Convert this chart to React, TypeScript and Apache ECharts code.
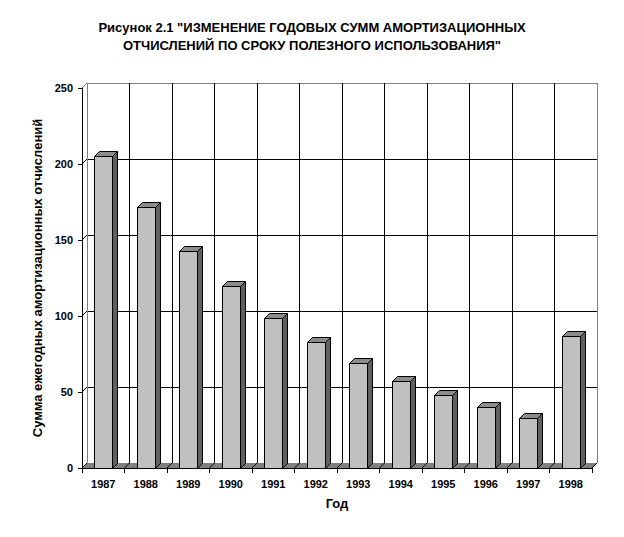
import React, { useEffect, useRef } from "react";
import * as echarts from "echarts";

const years = ["1987", "1988", "1989", "1990", "1991", "1992", "1993", "1994", "1995", "1996", "1997", "1998"];
const amounts = [205, 172, 143, 120, 99, 83, 69, 57, 48, 40, 33, 87];
const yTicks = [0, 50, 100, 150, 200, 250];
const titleText = 'Рисунок 2.1 "ИЗМЕНЕНИЕ ГОДОВЫХ СУММ АМОРТИЗАЦИОННЫХ\nОТЧИСЛЕНИЙ ПО СРОКУ ПОЛЕЗНОГО ИСПОЛЬЗОВАНИЯ"';
const yName = "Сумма ежегодных амортизационных отчислений";
const xName = "Год";

const FONT = 'Arial, "Liberation Sans", sans-serif';
const FL = 82, FT = 88, W = 510, H = 380, D = 5;

export default function App() {
  const ref = useRef<HTMLDivElement>(null);
  useEffect(() => {
    if (!ref.current) return;
    const chart = echarts.init(ref.current, null, { renderer: "svg" });
    const graphics: any[] = [];
    graphics.push({
      type: "text",
      z: 20,
      x: 312,
      y: 18,
      style: {
        text: titleText,
        align: "center",
        textAlign: "center",
        font: `bold 13px ${FONT}`,
        fill: "#000",
        lineHeight: 18,
      },
    });
    // floor
    graphics.push({
      type: "polygon",
      z: 1,
      shape: { points: [[FL, FT + H], [FL + W, FT + H], [FL + W + D, FT + H - D], [FL + D, FT + H - D]] },
      style: { fill: "#808080", stroke: "none" },
    });
    // floor diagonals at category boundaries
    for (let k = 0; k <= years.length; k++) {
      const x = FL + (W * k) / years.length;
      graphics.push({
        type: "line", z: 2,
        shape: { x1: x, y1: FT + H, x2: x + D, y2: FT + H - D },
        style: { stroke: "#000", lineWidth: 1 },
      });
    }
    // left wall diagonals
    yTicks.forEach((t, i) => {
      const y = FT + H - (H * t) / yTicks[yTicks.length - 1];
      graphics.push({
        type: "line", z: 2,
        shape: { x1: FL, y1: y, x2: FL + D, y2: y - D },
        style: { stroke: i === yTicks.length - 1 ? "#808080" : "#000", lineWidth: 1 },
      });
    });

    const splitColorsX = years.map((_, i) => (i === 0 ? "#808080" : "#000")).concat(["#808080"]);
    const splitColorsY = yTicks.map((_, i) => (i === yTicks.length - 1 ? "#808080" : "#000"));

    chart.setOption({
      animation: false,
      backgroundColor: "#fff",
      grid: [
        { left: FL + D, top: FT - D, width: W, height: H },
        { left: FL, top: FT, width: W, height: H },
      ],
      xAxis: [
        {
          gridIndex: 0, type: "category", data: years, boundaryGap: true,
          axisLine: { show: false }, axisTick: { show: false }, axisLabel: { show: false },
          splitLine: { show: true, lineStyle: { color: splitColorsX, width: 1 } },
        },
        {
          gridIndex: 1, type: "category", data: years, boundaryGap: true,
          axisLine: { show: true, lineStyle: { color: "#000", width: 1 } },
          axisTick: { show: true, length: 5, lineStyle: { color: "#000" } },
          axisLabel: { margin: 10, fontFamily: FONT, fontSize: 11, fontWeight: "bold", color: "#000" },
          splitLine: { show: false },
          name: xName, nameLocation: "middle", nameGap: 29,
          nameTextStyle: { fontFamily: FONT, fontSize: 13, fontWeight: "bold", color: "#000" },
          z: 10,
        },
      ],
      yAxis: [
        {
          gridIndex: 0, type: "value", min: 0, max: 250, interval: 50,
          axisLine: { show: false }, axisTick: { show: false }, axisLabel: { show: false },
          splitLine: { show: true, lineStyle: { color: splitColorsY, width: 1 } },
        },
        {
          gridIndex: 1, type: "value", min: 0, max: 250, interval: 50,
          axisLine: { show: true, lineStyle: { color: "#000", width: 1 } },
          axisTick: { show: true, length: 4, lineStyle: { color: "#000" } },
          axisLabel: { margin: 9, fontFamily: FONT, fontSize: 11, fontWeight: "bold", color: "#000" },
          splitLine: { show: false },
          name: yName, nameLocation: "middle", nameGap: 36,
          nameTextStyle: { fontFamily: FONT, fontSize: 13, fontWeight: "bold", color: "#000" },
          z: 10,
        },
      ],
      graphic: graphics,
      series: [
        {
          type: "custom",
          xAxisIndex: 1,
          yAxisIndex: 1,
          z: 5,
          data: amounts.map((v, i) => [i, v]),
          renderItem: (params: any, api: any) => {
            const top = api.coord([api.value(0), api.value(1)]);
            const base = api.coord([api.value(0), 0]);
            const w = api.size([1, 0])[0] * 0.42;
            const l = Math.round(top[0] - w / 2) + 0.5;
            const r = Math.round(top[0] + w / 2) + 0.5;
            const t = Math.round(top[1]) + 0.5;
            const b = Math.round(base[1]) + 0.5;
            return {
              type: "group",
              children: [
                {
                  type: "polygon",
                  shape: { points: [[r, t], [r + D, t - D], [r + D, b - D], [r, b]] },
                  style: { fill: "#606060", stroke: "#000", lineWidth: 1 },
                },
                {
                  type: "polygon",
                  shape: { points: [[l, t], [r, t], [r + D, t - D], [l + D, t - D]] },
                  style: { fill: "#8c8c8c", stroke: "#000", lineWidth: 1 },
                },
                {
                  type: "rect",
                  shape: { x: l, y: t, width: r - l, height: b - t },
                  style: { fill: "#c0c0c0", stroke: "#000", lineWidth: 1 },
                },
              ],
            };
          },
        },
      ],
    });
    return () => chart.dispose();
  }, []);
  return <div ref={ref} style={{ position: "fixed", left: 0, top: 0, width: 624, height: 537 }} />;
}
